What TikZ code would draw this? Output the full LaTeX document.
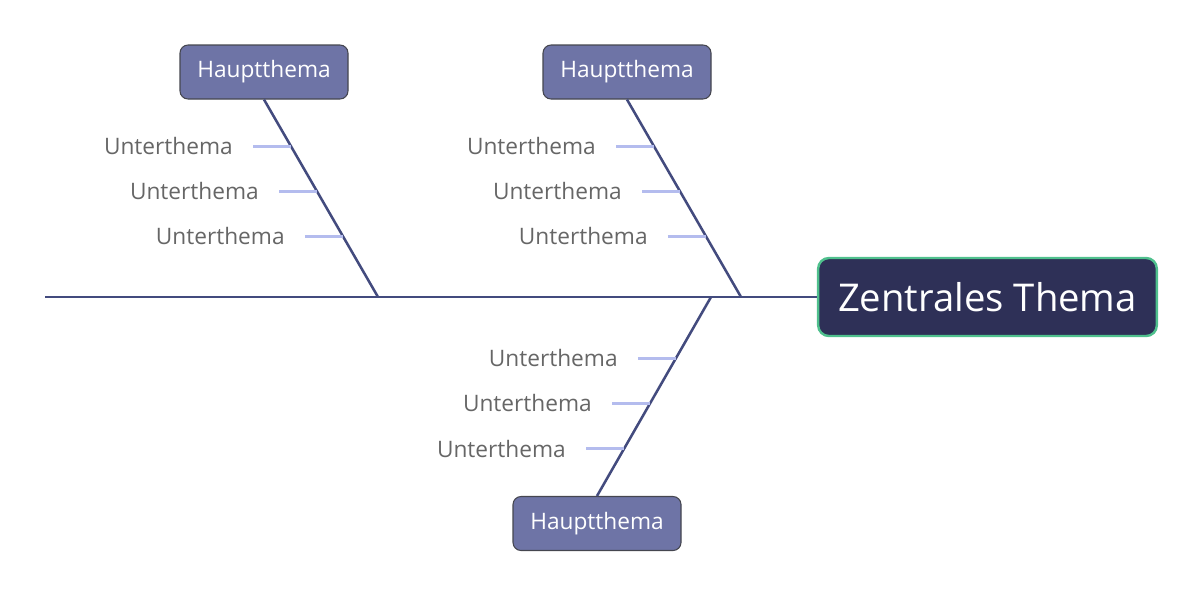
\documentclass[tikz,border=0pt]{standalone}
\usepackage{fontspec}
\setmainfont{Open Sans}
\usetikzlibrary{calc, positioning}
\definecolor{Spine}  {HTML}{434B7E}
\definecolor{Core}   {HTML}{2E3057}
\definecolor{CoreB}  {HTML}{4FC08D}
\definecolor{Main}   {HTML}{6E74A6}
\definecolor{MainB}  {HTML}{45464F}
\definecolor{Twig}   {HTML}{B4BCEE}
\definecolor{SubT}   {HTML}{666666}
\tikzset{
  core/.style={
    rectangle, rounded corners=8pt,
    draw=CoreB, fill=Core, text=white,
    font=\fontsize{28.7}{34}\selectfont,
    minimum width=254pt, minimum height=58.5pt,
    line width=1.8pt,
  },
  main/.style={
    rectangle, rounded corners=6pt,
    draw=MainB, fill=Main, text=white,
    font=\fontsize{17}{20}\selectfont,
    minimum width=126pt, minimum height=40.5pt,
    line width=0.8pt,
  },
  subt/.style={
    font=\fontsize{17}{20}\selectfont, text=SubT,
    inner sep=0pt,
  },
  spine/.style={draw=Spine, line width=2.2pt},
  bone/.style={draw=Spine, line width=1.9pt},
  twig/.style={draw=Twig, line width=2.2pt},
}
\begin{document}
\begin{tikzpicture}[x=0.75pt, y=-0.75pt]
  \useasboundingbox (0,0) rectangle (1203,611);
  % central topic and main topics
  \node[core] (zt) at (987.5,297) {Zentrales Thema};
  \node[main] (h1) at (264,72) {Hauptthema};
  \node[main] (h2) at (627,72) {Hauptthema};
  \node[main] (h3) at (597,523.5) {Hauptthema};
  % spine
  \coordinate (tail) at (45,297);
  \coordinate (j1) at (378,297);
  \coordinate (j2) at (741,297);
  \coordinate (j3) at (711,297);
  \draw[spine] (tail) -- (zt.west);
  % bones with subtopics
  \foreach \h/\a/\j in {h1/south/j1, h2/south/j2, h3/north/j3}{
    \draw[bone] (\h.\a) -- (\j);
    \foreach \f/\k in {0.237/a, 0.465/b, 0.692/c}{
      \coordinate (\h\k) at ($(\h.\a)!\f!(\j)$);
      \coordinate (\h\k t) at ($(\h\k)+(-38,0)$);
      \draw[twig] (\h\k t) -- (\h\k);
      \node[subt, left=15pt of \h\k t] (\h\k n) {Unterthema};
    }
  }
\end{tikzpicture}
\end{document}
